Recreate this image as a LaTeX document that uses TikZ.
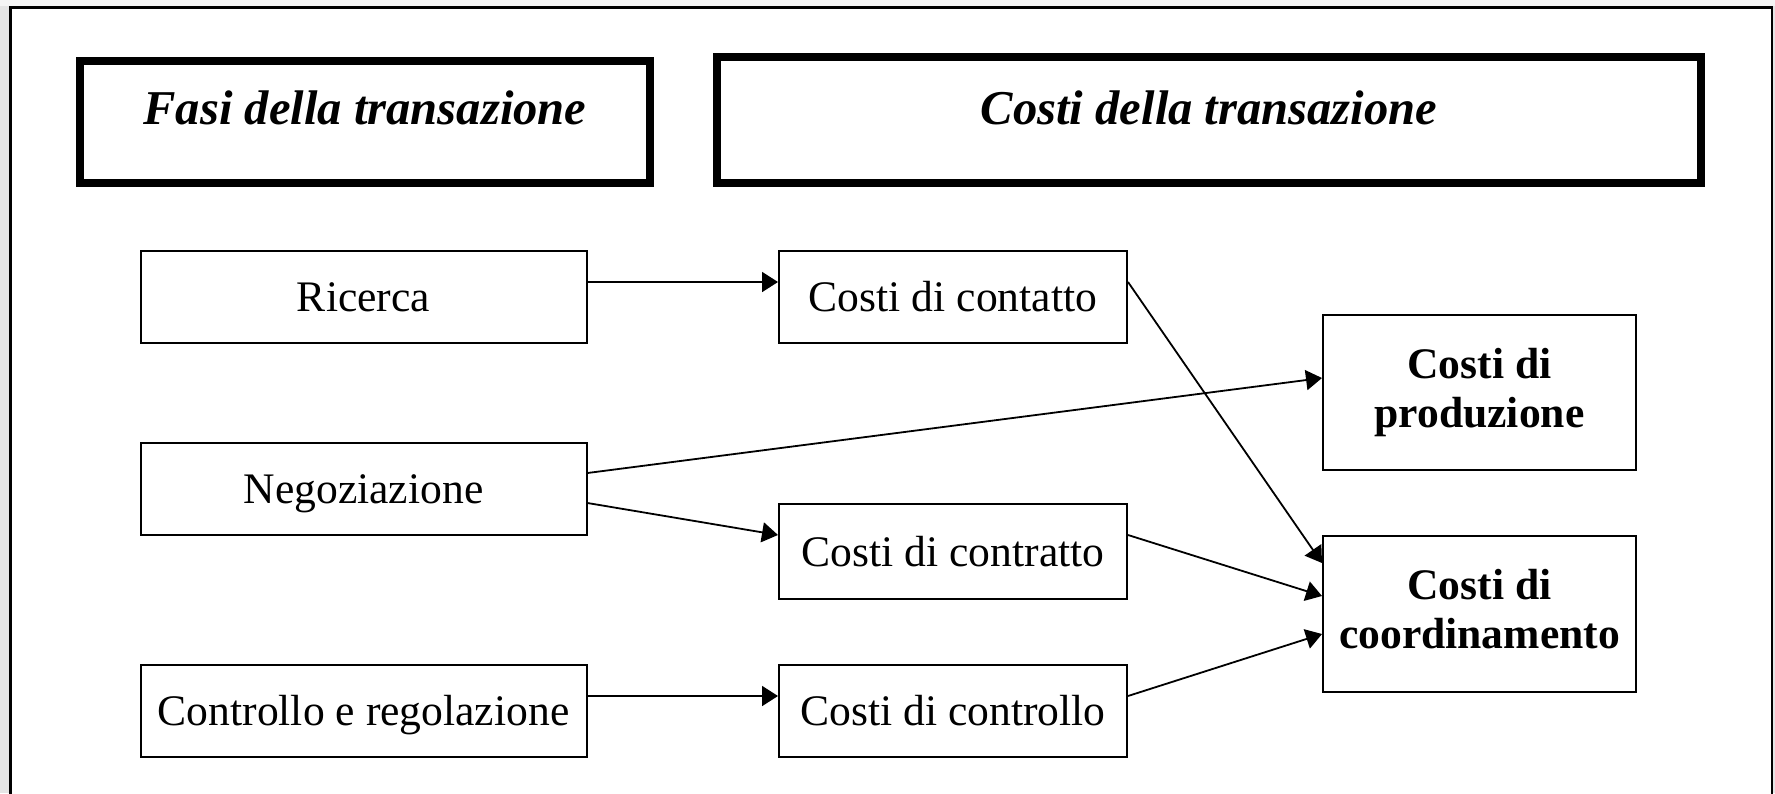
\documentclass[tikz,border=0pt]{standalone}
\usepackage{fontspec}
\setmainfont{Liberation Serif}
\usetikzlibrary{arrows.meta}
\tikzset{
  sz/.style 2 args={minimum width=#1*0.5pt, minimum height=#2*0.5pt},
  box/.style={draw=black, line width=1pt, fill=white, inner sep=0pt, align=center,
    font=\fontsize{21.8}{24.5}\selectfont, text height=17pt, text depth=2.5pt},
  bbox/.style={draw=black, line width=1pt, fill=white, inner sep=0pt, align=center,
    font=\fontsize{21.8}{24.5}\selectfont\bfseries, text depth=4.7pt},
  headbox/.style={draw=black, line width=4pt, fill=white, inner sep=0pt,
    font=\fontsize{24.3}{28}\selectfont\bfseries\itshape},
  arr/.style={line width=0.9pt, -{Triangle[length=8pt,width=10pt]}},
}
\begin{document}
\begin{tikzpicture}[x=0.5pt,y=-0.5pt]
\clip (0,0) rectangle (1775,793);
\fill[black!10] (0,0) rectangle (1775,793);
\fill[black!4] (0,0) rectangle (1775,6);
\draw[line width=1.2pt, fill=white] (10.5,7.5) rectangle (1772,830);

\node[headbox, sz={570}{122}, text height=17pt, text depth=14.5pt] (fasi) at (365,122) {Fasi della transazione};
\node[headbox, sz={984}{126}, text height=17pt, text depth=12.5pt] (costi) at (1209,120) {Costi della transazione};

\node[box, sz={446}{92}] (ric) at (363.5,296.5) {Ricerca};
\node[box, sz={446}{92}] (neg) at (363.5,489) {Negoziazione};
\node[box, sz={446}{92}] (reg) at (363.5,710.5) {Controllo e regolazione};
\node[box, sz={348}{92}] (cont) at (953,296.5) {Costi di contatto};
\node[box, sz={348}{95}] (contr) at (953,551.5) {Costi di contratto};
\node[box, sz={348}{92}] (cctl) at (953,710.5) {Costi di controllo};
\node[bbox, sz={313}{155}] (prod) at (1479.5,392.5) {Costi di\\produzione};
\node[bbox, sz={313}{156}] (coord) at (1479.5,614) {Costi di\\coordinamento};

\draw[arr] ([yshift=7.25pt]ric.east) -- ([yshift=7.25pt]cont.west);
\draw[arr] ([yshift=8pt]neg.east) -- ([yshift=7.25pt]prod.west);
\draw[arr] ([yshift=-7pt]neg.east) -- ([yshift=8.25pt]contr.west);
\draw[arr] ([yshift=7.25pt]cont.east) -- ([yshift=25.5pt]coord.west);
\draw[arr] ([yshift=8.25pt]contr.east) -- ([yshift=9pt]coord.west);
\draw[arr] ([yshift=7.25pt]cctl.east) -- ([yshift=-10pt]coord.west);
\draw[arr] ([yshift=7.25pt]reg.east) -- ([yshift=7.25pt]cctl.west);
\end{tikzpicture}
\end{document}
